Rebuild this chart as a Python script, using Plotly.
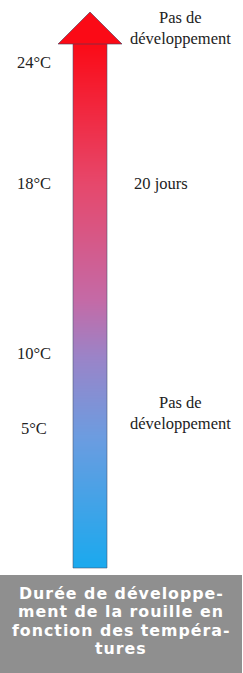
import numpy as np
import plotly.graph_objects as go

# ---- data ----
temp_labels = ["24°C", "18°C", "10°C", "5°C"]
stage_labels = ["Pas de<br>développement", "20 jours", "Pas de<br>développement"]
caption_lines = ["Durée de développe-", "ment de la rouille en", "fonction des tempéra-", "tures"]

# ---- layout helpers (pixel space, y downward) ----
W, H = 243, 673
temp_y = [62, 183, 353, 428]
stage_y = [28, 183, 413]
stage_x = [180, 161, 180]
shaft_x0, shaft_x1 = 73, 107
shaft_top, shaft_bot = 43, 568
head_left, head_right, head_tip_x, head_tip_y = 58, 122, 90, 12

fig = go.Figure()

# gradient shaft
n = shaft_bot - shaft_top
y_edges = np.linspace(shaft_top, shaft_bot, n + 1)
z = ((y_edges[:-1] + y_edges[1:]) / 2 - shaft_top) / n
fig.add_trace(go.Heatmap(
    x=[shaft_x0, shaft_x1], y=y_edges, z=z.reshape(-1, 1),
    colorscale=[[0, "#fb0a16"], [0.27, "#e6486c"], [0.49, "#c46aa6"],
                [0.6, "#9a84c8"], [0.75, "#6c9ce0"], [1, "#1aa9ee"]],
    zmin=0, zmax=1, showscale=False, hoverinfo="skip"))

shapes = [
    dict(type="rect", x0=shaft_x0, x1=shaft_x1, y0=shaft_top, y1=shaft_bot,
         line=dict(color="rgba(70,80,110,0.55)", width=1), fillcolor="rgba(0,0,0,0)"),
    dict(type="path",
         path=f"M {head_left} {shaft_top + 1} L {head_tip_x} {head_tip_y} L {head_right} {shaft_top + 1} Z",
         fillcolor="#fb0a16", line=dict(color="rgba(70,60,90,0.6)", width=1)),
    dict(type="rect", x0=0, x1=242, y0=575, y1=H, fillcolor="#8f8f8f", line=dict(width=0), layer="below"),
]

ann = []
serif = dict(family="Liberation Serif", size=16.5, color="#222")
for t, y in zip(temp_labels, temp_y):
    ann.append(dict(x=34, y=y, text=t, showarrow=False, font=serif, xanchor="center", yanchor="middle"))
for s, y, x in zip(stage_labels, stage_y, stage_x):
    ann.append(dict(x=x, y=y, text=s, showarrow=False, font=serif, xanchor="center", yanchor="middle"))

for i, line in enumerate(caption_lines):
    ann.append(dict(x=121, y=593 + i * 18.6,
                    text="<b><span style='letter-spacing:1px'>" + line + "</span></b>",
                    showarrow=False,
                    font=dict(family="DejaVu Sans", size=15.8, color="white"),
                    xanchor="center", yanchor="middle"))

fig.update_layout(
    width=W, height=H, margin=dict(l=0, r=0, t=0, b=0),
    paper_bgcolor="white", plot_bgcolor="white",
    xaxis=dict(range=[0, W], visible=False, fixedrange=True),
    yaxis=dict(range=[H, 0], visible=False, fixedrange=True),
    shapes=shapes, annotations=ann, showlegend=False)

fig.write_html("out.html", config={"displayModeBar": False},
               post_script="document.body.style.margin='0px';document.body.style.overflow='hidden';")
